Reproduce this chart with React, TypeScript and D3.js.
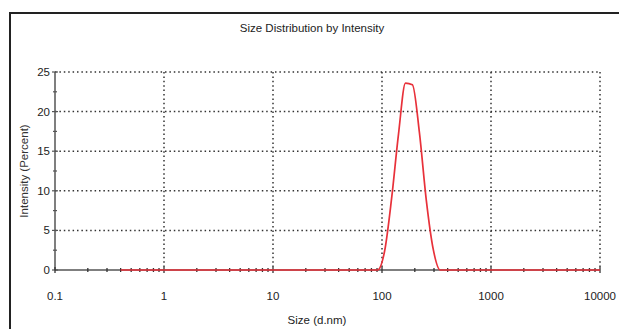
import React from "react"
import * as d3 from "d3"

// Zetasizer size bins (d.nm) and intensity (%)
const sizes = [
  0.4, 0.4632, 0.5365, 0.6213, 0.7195, 0.8332, 0.9649, 1.117, 1.294, 1.499,
  1.736, 2.01, 2.328, 2.696, 3.122, 3.615, 4.187, 4.849, 5.615, 6.503, 7.531,
  8.721, 10.1, 11.7, 13.54, 15.69, 18.17, 21.04, 24.36, 28.21, 32.67, 37.84,
  43.82, 50.75, 58.77, 68.06, 78.82, 91.28, 105.7, 122.4, 141.8, 164.2, 190.1,
  220.2, 255.0, 295.3, 342.0, 396.1, 458.7, 531.2, 615.1, 712.4, 825.0, 955.4,
  1106, 1281, 1484, 1718, 1990, 2305, 2669, 3091, 3580, 4145, 4801, 5560, 6439,
  7456, 8635, 10000,
]
const intensity = [
  0, 0, 0, 0, 0, 0, 0, 0, 0, 0, 0, 0, 0, 0, 0, 0, 0, 0, 0, 0, 0, 0, 0, 0, 0, 0,
  0, 0, 0, 0, 0, 0, 0, 0, 0, 0, 0, 0, 2.4, 9.0, 17.2, 23.6, 23.4, 17.4, 8.8,
  2.6, 0, 0, 0, 0, 0, 0, 0, 0, 0, 0, 0, 0, 0, 0, 0, 0, 0, 0, 0, 0, 0, 0, 0, 0,
]
const xTicks = [0.1, 1, 10, 100, 1000, 10000]
const xTickLabels = ["0.1", "1", "10", "100", "1000", "10000"]
const yTicks = [0, 5, 10, 15, 20, 25]
const yMinorTicks = [2.5, 7.5, 12.5, 17.5, 22.5]

const W = 619
const H = 329
const font = "'Liberation Sans Narrow', 'Liberation Sans', Arial, sans-serif"

export default function App() {
  const x = d3.scaleLog().domain([0.1, 10000]).range([55, 600])
  const y = d3.scaleLinear().domain([0, 25]).range([270, 72])

  const minorX: number[] = []
  for (let e = -1; e < 4; e++) {
    for (let m = 2; m <= 9; m++) minorX.push(m * Math.pow(10, e))
  }

  const line = d3
    .line<number>()
    .x((_, i) => x(sizes[i]))
    .y(d => y(d))
    .curve(d3.curveMonotoneX)

  const axisColor = "#555"
  const dots = "1.5 2.9"

  return (
    <svg
      width={W}
      height={H}
      style={{ position: "absolute", left: 0, top: 0, background: "#fff" }}
    >
      {/* frame */}
      <rect x={10} y={13} width={W + 10} height={H + 10} fill="none" stroke="#222" strokeWidth={2} />

      <text x={312} y={32} textAnchor="middle" fontFamily={font} fontSize={11.5} fill="#222">
        Size Distribution by Intensity
      </text>

      {/* grid */}
      {yTicks.filter(t => t > 0).map(t => (
        <line key={"gy" + t} x1={x(0.1)} x2={x(10000)} y1={y(t)} y2={y(t)}
          stroke="#333" strokeWidth={1.5} strokeDasharray={dots} />
      ))}
      {xTicks.filter(t => t > 0.1).map(t => (
        <line key={"gx" + t} x1={x(t)} x2={x(t)} y1={y(25)} y2={y(0)}
          stroke="#333" strokeWidth={1.5} strokeDasharray={dots} />
      ))}

      {/* y axis */}
      <line x1={x(0.1)} x2={x(0.1)} y1={y(25)} y2={y(0)} stroke={axisColor} strokeWidth={1.5} />
      {yTicks.map(t => (
        <line key={"yt" + t} x1={x(0.1) - 3} x2={x(0.1) + 3} y1={y(t)} y2={y(t)} stroke={axisColor} strokeWidth={1.2} />
      ))}
      {yMinorTicks.map(t => (
        <line key={"ym" + t} x1={x(0.1) - 2} x2={x(0.1) + 2} y1={y(t)} y2={y(t)} stroke={axisColor} strokeWidth={1.2} />
      ))}
      {yTicks.map(t => (
        <text key={"yl" + t} x={x(0.1) - 5} y={y(t) + 4} textAnchor="end" fontFamily={font} fontSize={11.5} fill="#222">
          {t}
        </text>
      ))}
      <text transform={`translate(28, ${(y(0) + y(25)) / 2}) rotate(-90)`} textAnchor="middle"
        fontFamily={font} fontSize={11.5} fill="#333">
        Intensity (Percent)
      </text>

      {/* x axis */}
      <line x1={x(0.1)} x2={x(10000)} y1={y(0)} y2={y(0)} stroke={axisColor} strokeWidth={1.5} />
      {minorX.map(t => (
        <line key={"xm" + t} x1={x(t)} x2={x(t)} y1={y(0) - 2} y2={y(0) + 2} stroke="#333" strokeWidth={1.3} />
      ))}
      {xTicks.map(t => (
        <line key={"xt" + t} x1={x(t)} x2={x(t)} y1={y(0) - 3} y2={y(0) + 3} stroke="#333" strokeWidth={1.3} />
      ))}
      {xTicks.map((t, i) => (
        <text key={"xl" + t} x={x(t)} y={300} textAnchor="middle" fontFamily={font} fontSize={11.5} fill="#222">
          {xTickLabels[i]}
        </text>
      ))}
      <text x={317} y={324} textAnchor="middle" fontFamily={font} fontSize={11.5} fill="#222">
        Size (d.nm)
      </text>

      {/* distribution */}
      <path d={line(intensity) ?? ""} fill="none" stroke="#e8313a" strokeWidth={1.7} strokeLinejoin="round" />
    </svg>
  )
}
